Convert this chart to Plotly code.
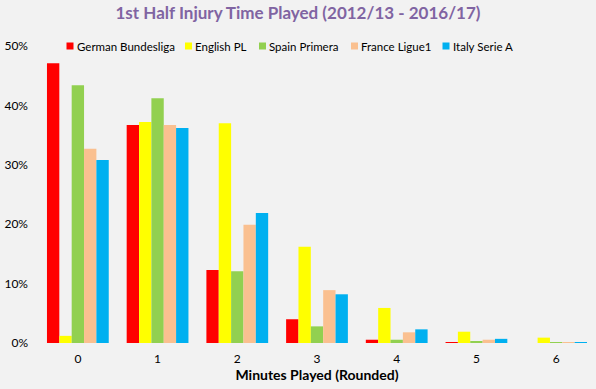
import plotly.graph_objects as go

categories = ["0", "1", "2", "3", "4", "5", "6"]
german = [0.471, 0.367, 0.123, 0.040, 0.0055, 0.0015, 0.0]
english = [0.012, 0.372, 0.370, 0.162, 0.059, 0.019, 0.009]
spain = [0.434, 0.412, 0.121, 0.028, 0.0055, 0.003, 0.0015]
france = [0.327, 0.367, 0.199, 0.089, 0.018, 0.0055, 0.0015]
italy = [0.308, 0.362, 0.219, 0.082, 0.023, 0.007, 0.0015]

series_names = ["German Bundesliga", "English PL", "Spain Primera", "France Ligue1", "Italy Serie A"]
series_values = [german, english, spain, france, italy]
series_colors = ["#ff0000", "#ffff00", "#92d050", "#fac090", "#00b0f0"]

# legend layout (pixel positions of swatch centres in the figure)
W, H = 596, 389
ML, MR, MT, MB = 38, 0, 46, 46
legend_marker_px = [70, 188.5, 262.5, 354.5, 446]
legend_y_px = 46
swatch = 7

font_family = "Lato, Open Sans, sans-serif"
fig = go.Figure()
for name, vals, color in zip(series_names, series_values, series_colors):
    fig.add_trace(go.Bar(x=categories, y=vals, name=name, marker_color=color,
                         marker_line_width=0, showlegend=False))

pw = W - ML - MR
ph = H - MT - MB


def px_to_paper_x(px):
    return (px - ML) / pw


def px_to_paper_y(py):
    return (H - MB - py) / ph


for name, color, mx in zip(series_names, series_colors, legend_marker_px):
    fig.add_shape(type="rect", xref="paper", yref="paper",
                  x0=px_to_paper_x(mx - swatch / 2), x1=px_to_paper_x(mx + swatch / 2),
                  y0=px_to_paper_y(legend_y_px + swatch / 2), y1=px_to_paper_y(legend_y_px - swatch / 2),
                  fillcolor=color, line_width=0)
    fig.add_annotation(text=name, xref="paper", yref="paper",
                       x=px_to_paper_x(mx + swatch / 2 + 1), y=px_to_paper_y(legend_y_px),
                       xanchor="left", yanchor="middle", showarrow=False,
                       font=dict(size=11.5, color="#000000", family=font_family))

fig.update_layout(
    width=W, height=H,
    paper_bgcolor="#f2f2f2", plot_bgcolor="#f2f2f2",
    margin=dict(l=ML, r=MR, t=MT, b=MB, autoexpand=False),
    barmode="group", bargap=0.225, bargroupgap=0,
    font=dict(family=font_family, size=12, color="#000000"),
    title=dict(text="<b>1st Half Injury Time Played (2012/13 - 2016/17)</b>",
               x=0.5, xanchor="center", yref="container", y=0.967, yanchor="middle",
               font=dict(size=17, color="#8064a2", family=font_family)),
    showlegend=False,
)
fig.update_xaxes(showgrid=False, showline=False, ticks="", zeroline=False,
                 automargin=False, ticklabelstandoff=7,
                 title=dict(text="<b>Minutes Played (Rounded)</b>", standoff=0,
                            font=dict(size=14)),
                 tickfont=dict(size=12))
fig.update_yaxes(range=[0, 0.5], dtick=0.1, tickformat=".0%", showgrid=False,
                 showline=False, zeroline=False, ticks="", automargin=False,
                 ticklabelstandoff=9, tickfont=dict(size=12))

fig.write_html("out.html", config={"displayModeBar": False},
               post_script="document.body.style.margin='0px';")
